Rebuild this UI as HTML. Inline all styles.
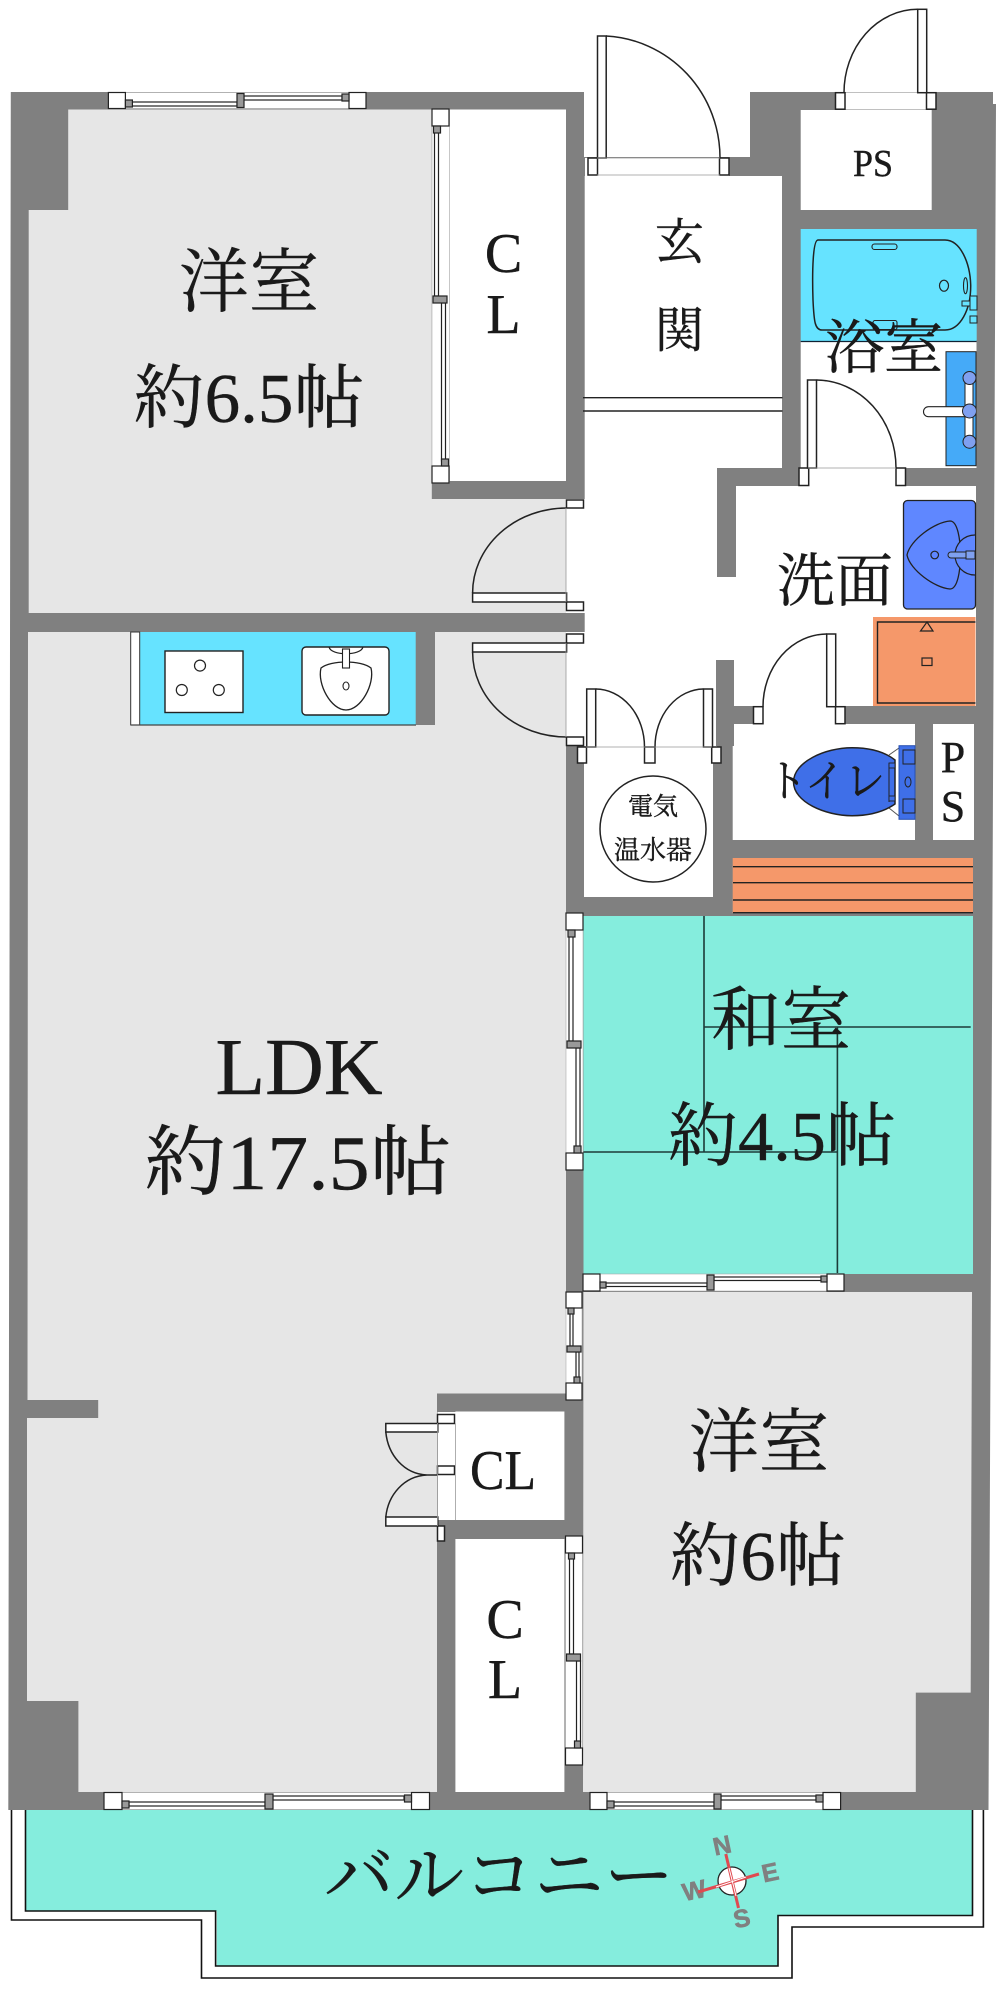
<!DOCTYPE html>
<html lang="ja"><head><meta charset="utf-8"><title>間取り図</title>
<style>
html,body{margin:0;padding:0;background:#fff}
svg{display:block}
text{font-family:"Liberation Serif","Noto Serif CJK SC","Noto Serif CJK JP",serif;fill:#1a1a1a;stroke:#1a1a1a;stroke-width:.4}
</style></head><body>
<svg xmlns="http://www.w3.org/2000/svg" width="1000" height="1994" viewBox="0 0 1000 1994">
<rect width="1000" height="1994" fill="#fff"/>
<!-- balcony -->
<path d="M25.5,1808H972V1915H778V1966H216.8V1911H25.5Z" fill="#85eddd"/>
<path d="M25.5,1808V1911H215.6V1966H778V1915.5H972.5V1808M11.5,1808V1920H201.5V1978H792V1927H983.4V1808" fill="none" stroke="#111" stroke-width="1.6"/>
<!-- walls -->
<path d="M10.8,92H584V157H750V92H993V104H996L988.5,1810H8.3Z" fill="#808080"/>
<!-- grey rooms -->
<path d="M68.2,109.5H431.8V499H566V613H28.7V210H68.2Z" fill="#e6e6e6"/>
<path d="M28,632H130.7V725H435V632H566V1393.5H437V1792H78.4V1701H27V1418H98.2V1400H27.5Z" fill="#e6e6e6"/>
<path d="M583.5,1292H972L970.7,1692.6H915.8V1792H583Z" fill="#e6e6e6"/>
<!-- white rooms -->
<rect x="449.6" y="109.5" width="116.4" height="371.5" fill="#fff"/>
<rect x="584.7" y="176" width="197.3" height="292" fill="#fff"/>
<rect x="584.7" y="468" width="132.3" height="279" fill="#fff"/>
<rect x="717" y="486" width="259" height="220" fill="#fff"/>
<rect x="800.7" y="110" width="131" height="100" fill="#fff"/>
<rect x="800.7" y="341" width="176" height="127" fill="#fff"/>
<rect x="732.7" y="724" width="182.3" height="116" fill="#fff"/>
<rect x="933" y="724" width="41" height="116" fill="#fff"/>
<rect x="584" y="763" width="129" height="134" fill="#fff"/>
<rect x="455.4" y="1411.5" width="109" height="108.5" fill="#fff"/>
<rect x="455.4" y="1539" width="109" height="253" fill="#fff"/>
<!-- wall stubs in hall / washroom -->
<rect x="717" y="468" width="19" height="109" fill="#808080"/>
<rect x="716" y="660" width="18" height="86" fill="#808080"/>
<!-- openings -->
<rect x="585" y="158" width="144" height="18" fill="#fff"/>
<rect x="835" y="92.5" width="100" height="17" fill="#fff"/>
<rect x="799" y="468" width="106" height="18" fill="#fff"/>
<rect x="753" y="706" width="92" height="18" fill="#fff"/>
<rect x="577" y="747" width="144" height="16" fill="#fff"/>
<rect x="566" y="499" width="19" height="114" fill="#fff"/>
<rect x="566" y="632" width="19" height="114" fill="#fff"/>
<rect x="437.5" y="1412" width="18" height="108" fill="#fff"/>

<!-- tatami -->
<rect x="583.5" y="916" width="389.5" height="358" fill="#85eddd"/>
<path d="M704,916V1152M704,1027H970.7M837.4,1027V1273M583.5,1152H837.4" fill="none" stroke="#1c3b38" stroke-width="1.6"/>
<!-- orange step -->
<rect x="732.7" y="858" width="240.3" height="55" fill="#f5986a"/>
<path d="M733,866.7H973M733,882.7H973M733,900H973M733,912.7H973" stroke="#222" stroke-width="1.4"/>

<!-- kitchen -->
<rect x="130.7" y="632" width="285" height="93" fill="#66e3ff"/>
<rect x="130.7" y="632" width="9" height="93" fill="#fff" stroke="#333" stroke-width="1"/>
<path d="M131,725H416" stroke="#444" stroke-width="1.2"/>
<rect x="165" y="651" width="78" height="61.5" fill="#fff" stroke="#222" stroke-width="1.4"/>
<circle cx="200" cy="665.6" r="5.5" fill="#fff" stroke="#222" stroke-width="1.2"/>
<circle cx="181.8" cy="690" r="5.5" fill="#fff" stroke="#222" stroke-width="1.2"/>
<circle cx="218.8" cy="690" r="5.5" fill="#fff" stroke="#222" stroke-width="1.2"/>
<rect x="302" y="647" width="87" height="68" rx="4" fill="#fff" stroke="#222" stroke-width="1.4"/>
<path d="M321,668C331,660 361,660 371,668C375,684 361,710 346,710C331,710 317,684 321,668Z" fill="#fff" stroke="#222" stroke-width="1.3"/>
<path d="M329,647C331,656 361,656 363,647" fill="none" stroke="#222" stroke-width="1.2"/>
<rect x="342.5" y="649" width="7" height="19" fill="#fff" stroke="#222" stroke-width="1.1"/>
<ellipse cx="346" cy="686" rx="3" ry="4" fill="#fff" stroke="#222" stroke-width="1.1"/>

<!-- bath -->
<rect x="800.7" y="229" width="176" height="112.5" fill="#66e3ff"/>
<path d="M800.7,341.5H976.7" stroke="#123" stroke-width="1.2"/>
<path d="M818,240H945C960,240 970,262 970.7,285C971,310 960,330 945,330H822C815,330 814,322 813,300C812,270 813,240 818,240Z" fill="#66e3ff" stroke="#222" stroke-width="1.5"/>
<rect x="872" y="244" width="25" height="5.5" rx="2.5" fill="#66e3ff" stroke="#222" stroke-width="1.1"/>
<rect x="873" y="320.5" width="24" height="9" rx="2" fill="#66e3ff" stroke="#222" stroke-width="1.1"/>
<ellipse cx="944" cy="285.7" rx="4.5" ry="5.5" fill="#66e3ff" stroke="#222" stroke-width="1.2"/>
<ellipse cx="965.5" cy="285.7" rx="2" ry="8" fill="#66e3ff" stroke="#222" stroke-width="1.1"/>
<rect x="962" y="301" width="12" height="5" fill="#66e3ff" stroke="#222" stroke-width="1"/>
<rect x="970" y="296" width="7" height="14" fill="#66e3ff" stroke="#222" stroke-width="1"/>
<rect x="970" y="316" width="7" height="7" fill="#66e3ff" stroke="#222" stroke-width="1"/>
<!-- bath vanity -->
<rect x="946" y="351.7" width="30" height="114" fill="#45aaf8" stroke="#222" stroke-width="1"/>
<rect x="965" y="378" width="8" height="64" fill="#fff" stroke="#222" stroke-width="1"/>
<rect x="923.5" y="406.7" width="46" height="10" rx="5" fill="#fff" stroke="#222" stroke-width="1.1"/>
<circle cx="969.5" cy="378" r="6.5" fill="#7fa0f0" stroke="#222" stroke-width="1"/>
<circle cx="969.5" cy="411" r="7" fill="#7fa0f0" stroke="#222" stroke-width="1"/>
<circle cx="969.5" cy="441.7" r="6.5" fill="#7fa0f0" stroke="#222" stroke-width="1"/>
<rect x="976.5" y="340" width="12" height="130" fill="#808080"/>

<!-- wash basin -->
<rect x="903.5" y="500.5" width="72" height="108.5" rx="4" fill="#5f87ff" stroke="#222" stroke-width="1.3"/>
<path d="M907,555C910,540 935,522 950,521C958,521 960,540 961,555C960,570 958,589 950,589C935,588 910,570 907,555Z" fill="#5f87ff" stroke="#222" stroke-width="1.3"/>
<path d="M975,535A20,20 0 0 0 975,575" fill="#5f87ff" stroke="#222" stroke-width="1.2"/>
<circle cx="934.7" cy="555" r="3.8" fill="#5f87ff" stroke="#222" stroke-width="1.2"/>
<rect x="948" y="552" width="20" height="6" rx="3" fill="#7fa0f0" stroke="#222" stroke-width="1"/>
<rect x="966" y="551" width="9" height="8" fill="#7fa0f0" stroke="#222" stroke-width="1"/>
<!-- washer -->
<rect x="873" y="617" width="102.5" height="89" fill="#f5986a"/>
<path d="M975.5,622H877.5V703H975.5" fill="none" stroke="#222" stroke-width="1.4"/>
<path d="M927,622L933,631H920.5Z" fill="#f5986a" stroke="#222" stroke-width="1.2"/>
<rect x="922" y="658" width="10" height="7.5" fill="#f5986a" stroke="#222" stroke-width="1.2"/>

<!-- toilet -->
<path d="M889,755L899,748M889,808L899,816" stroke="#555" stroke-width="1"/>
<rect x="899" y="745.7" width="16" height="73.6" fill="#3f6fe8" stroke="#2750b0" stroke-width="1"/>
<rect x="903" y="750" width="12" height="14" fill="#3f6fe8" stroke="#222" stroke-width="1"/>
<rect x="903" y="799" width="12" height="14" fill="#3f6fe8" stroke="#222" stroke-width="1"/>
<ellipse cx="908" cy="782" rx="3" ry="5" fill="#3f6fe8" stroke="#222" stroke-width="1"/>
<path d="M793.5,782C793.5,762 825,747.7 852,747.7C872,747.7 885,752 895,760V804C885,811 872,815.7 852,815.7C825,815.7 793.5,802 793.5,782Z" fill="#3f6fe8" stroke="#222" stroke-width="1.5"/>
<path d="M889,763V802" stroke="#222" stroke-width="1"/>
<rect x="889" y="763" width="6" height="5" fill="#3f6fe8" stroke="#222" stroke-width=".9"/>
<rect x="889" y="796" width="6" height="5" fill="#3f6fe8" stroke="#222" stroke-width=".9"/>

<!-- hall lines -->
<path d="M583,397.7H782.5M583,411H782.5" stroke="#222" stroke-width="1.4"/>

<!-- doors -->
<g fill="#fff" stroke="#222" stroke-width="1.5">
<rect x="588" y="158" width="9.5" height="17"/><rect x="719.5" y="158" width="9.5" height="17"/>
<rect x="597.5" y="36" width="8.7" height="122"/>
<path d="M606,36A120,122 0 0 1 720,158" fill="none"/>
<path d="M597,158H720M597,175H720" stroke="#999" stroke-width=".7" fill="none"/>
<rect x="835.5" y="92.7" width="9.5" height="16.5"/><rect x="926.5" y="92.7" width="9.5" height="16.5"/>
<rect x="917.7" y="9.3" width="9" height="83.4"/>
<path d="M917.7,9.3A74,83.4 0 0 0 844,92.7" fill="none"/>
<rect x="799" y="468" width="9.7" height="17.5"/><rect x="896" y="468" width="9.5" height="17.5"/>
<rect x="807.5" y="380" width="9" height="88"/>
<path d="M816.7,380A80,88 0 0 1 896,468" fill="none"/>
<path d="M808,468H896" stroke="#999" stroke-width=".7" fill="none"/>
<rect x="753.5" y="706.7" width="9.5" height="17"/><rect x="835.5" y="706.7" width="9.5" height="17"/>
<rect x="826.7" y="634" width="9" height="72.7"/>
<path d="M826.7,634A64,72.7 0 0 0 763,706.7" fill="none"/>
<rect x="577.5" y="747" width="9" height="16"/><rect x="644.5" y="747" width="10.5" height="16"/><rect x="711.7" y="747" width="9.3" height="16"/>
<rect x="586.7" y="689" width="9" height="58"/><rect x="703.5" y="689" width="9" height="58"/>
<path d="M595.7,689A49,58 0 0 1 644.5,747M703.5,689A49,58 0 0 0 655,747" fill="none"/>
<path d="M586,747H712" stroke="#999" stroke-width=".8" fill="none"/>
<rect x="566.5" y="500" width="17" height="8"/><rect x="566.5" y="602" width="17" height="8.5"/>
<rect x="472.6" y="593" width="94" height="9"/>
<path d="M566.5,508A94,85 0 0 0 472.6,593" fill="none"/>
<rect x="566.5" y="634" width="17" height="9"/><rect x="566.5" y="737" width="17" height="8.5"/>
<rect x="472.6" y="643" width="94" height="9"/>
<path d="M472.6,652A94,85 0 0 0 566.5,737" fill="none"/>
<rect x="437.5" y="1414.5" width="17" height="9"/><rect x="437.5" y="1466" width="17" height="8.5"/><rect x="437.5" y="1526" width="7" height="15"/>
<rect x="385.8" y="1423.5" width="52" height="8.5"/><rect x="385.8" y="1517" width="52" height="9"/>
<path d="M385.8,1432C388,1455 404,1474 427,1475H437.5M385.8,1517C388,1495 404,1476 427,1475" fill="none"/>
</g>
<path d="M566,508V602M566,643V737M437.5,1423V1526M455.4,1423V1520" stroke="#999" stroke-width=".8"/>
<rect x="446" y="1520" width="19" height="19" fill="#808080"/>

<!-- sliding windows -->
<g stroke="#222" stroke-width="1.2" fill="#fff">
<!-- top window -->
<rect x="108.4" y="92.5" width="257.6" height="16" stroke="#aaa" stroke-width=".6"/>
<rect x="108.4" y="92.5" width="17" height="16"/><rect x="349" y="92.5" width="17" height="16"/>
<rect x="130" y="102" width="107" height="4"/><rect x="244" y="96" width="98" height="4"/>
<rect x="237" y="93.5" width="7" height="14" fill="#999"/>
<rect x="125.4" y="100" width="7" height="7" fill="#999"/><rect x="342" y="94" width="7" height="7" fill="#999"/>
<!-- CL1 vertical -->
<rect x="432" y="109" width="17.5" height="374" stroke="#aaa" stroke-width=".6"/>
<rect x="432" y="109" width="17" height="17"/><rect x="432" y="466" width="17" height="17"/>
<rect x="434.5" y="130" width="4" height="166"/><rect x="441.5" y="303" width="4" height="158"/>
<rect x="433" y="296" width="14" height="7" fill="#999"/>
<rect x="433.5" y="126" width="7" height="7" fill="#999"/><rect x="441.5" y="459" width="7" height="7" fill="#999"/>
<!-- LDK / washitsu vertical -->
<rect x="566" y="913" width="17" height="257" stroke="#aaa" stroke-width=".6"/>
<rect x="566" y="913" width="17" height="17"/><rect x="566" y="1153" width="17" height="17"/>
<rect x="569" y="936" width="4" height="105"/><rect x="576" y="1048" width="4" height="99"/>
<rect x="567" y="1041" width="14" height="7" fill="#999"/>
<rect x="568" y="930" width="7" height="7" fill="#999"/><rect x="574" y="1146" width="7" height="7" fill="#999"/>
<!-- LDK / yoshitsu vertical -->
<rect x="566" y="1292" width="16" height="108" stroke="#aaa" stroke-width=".6"/>
<rect x="566" y="1292" width="16" height="16"/><rect x="566" y="1383" width="16" height="17"/>
<rect x="570" y="1313" width="3" height="33"/><rect x="576" y="1352" width="3" height="26"/>
<rect x="567" y="1346" width="14" height="6" fill="#999"/>
<rect x="568" y="1308" width="6" height="6" fill="#999"/><rect x="574" y="1377" width="6" height="6" fill="#999"/>
<!-- CL2 vertical -->
<rect x="565.5" y="1536" width="17" height="229" stroke="#aaa" stroke-width=".6"/>
<rect x="565.5" y="1536" width="17" height="17"/><rect x="565.5" y="1748" width="17" height="17"/>
<rect x="569.5" y="1558" width="4" height="96"/><rect x="576.5" y="1661" width="4" height="81"/>
<rect x="566.5" y="1654" width="14" height="7" fill="#999"/>
<rect x="568.5" y="1553" width="6" height="6" fill="#999"/><rect x="574.5" y="1741" width="6" height="7" fill="#999"/>
<!-- washitsu bottom window -->
<rect x="583" y="1274" width="261" height="17" stroke="#aaa" stroke-width=".6"/>
<rect x="583" y="1274" width="17" height="17"/><rect x="827" y="1274" width="17" height="17"/>
<rect x="606" y="1283" width="101" height="3.5"/><rect x="714" y="1277" width="107" height="3.5"/>
<rect x="707" y="1275" width="7" height="15" fill="#999"/>
<rect x="600" y="1282" width="6" height="6" fill="#999"/><rect x="821" y="1276" width="6" height="6" fill="#999"/>
<!-- bottom windows -->
<rect x="104" y="1792.5" width="325" height="17" stroke="#aaa" stroke-width=".6"/>
<rect x="104" y="1792.5" width="18" height="17"/><rect x="411.5" y="1792.5" width="18" height="17"/>
<rect x="129" y="1802" width="136" height="4"/><rect x="273" y="1796" width="131" height="4"/>
<rect x="265" y="1794" width="8" height="15" fill="#999"/>
<rect x="122" y="1801" width="7" height="7" fill="#999"/><rect x="404.5" y="1795" width="7" height="7" fill="#999"/>
<rect x="590" y="1792.5" width="250.6" height="17" stroke="#aaa" stroke-width=".6"/>
<rect x="590" y="1792.5" width="17" height="17"/><rect x="823" y="1792.5" width="17.6" height="17"/>
<rect x="614" y="1802" width="100" height="4"/><rect x="721" y="1796" width="95" height="4"/>
<rect x="714" y="1794" width="7" height="15" fill="#999"/>
<rect x="607" y="1801" width="7" height="7" fill="#999"/><rect x="816" y="1795" width="7" height="7" fill="#999"/>
</g>

<!-- water heater -->
<ellipse cx="653" cy="829" rx="53" ry="53" fill="#fff" stroke="#222" stroke-width="1.5"/>

<!-- compass -->
<g font-weight="700" font-size="25" text-anchor="middle">
<text x="722" y="1854" transform="rotate(-12 722 1845)" style="font-family:'Liberation Sans',sans-serif;fill:#808080;stroke:#808080;stroke-width:.6">N</text>
<text x="770" y="1881" transform="rotate(-12 770 1872)" style="font-family:'Liberation Sans',sans-serif;fill:#808080;stroke:#808080;stroke-width:.6">E</text>
<text x="694" y="1899" transform="rotate(-12 694 1890)" style="font-family:'Liberation Sans',sans-serif;fill:#808080;stroke:#808080;stroke-width:.6">W</text>
<text x="741.7" y="1927" transform="rotate(-12 741.7 1918)" style="font-family:'Liberation Sans',sans-serif;fill:#808080;stroke:#808080;stroke-width:.6">S</text>
</g>
<circle cx="732" cy="1881" r="14" fill="#fff" stroke="#222" stroke-width="1.3"/>
<path d="M725.8,1854L738.5,1908M698,1892L759,1874" stroke="#e04a50" stroke-width="3"/>
<path d="M729,1868L736,1896M716,1887L746,1877" stroke="#fff" stroke-width="1"/>

<!-- labels -->
<text x="249" y="306" font-size="70" text-anchor="middle">洋室</text>
<text x="249" y="422" font-size="70" text-anchor="middle" textLength="231" lengthAdjust="spacingAndGlyphs">約6.5帖</text>
<text x="503.5" y="272" font-size="56" text-anchor="middle">C</text>
<text x="503.5" y="333" font-size="56" text-anchor="middle">L</text>
<text x="679.5" y="259" font-size="49" text-anchor="middle">玄</text>
<text x="679.5" y="347" font-size="49" text-anchor="middle">関</text>
<text x="873" y="176" font-size="38" text-anchor="middle" textLength="40" lengthAdjust="spacingAndGlyphs">PS</text>
<text x="884" y="368" font-size="59" text-anchor="middle">浴室</text>
<text x="835" y="601" font-size="58" text-anchor="middle">洗面</text>
<text x="826" y="796" font-size="44" text-anchor="middle" textLength="118" lengthAdjust="spacingAndGlyphs">トイレ</text>
<text x="953" y="772" font-size="44" text-anchor="middle">P</text>
<text x="953" y="821" font-size="44" text-anchor="middle">S</text>
<text x="653" y="815" font-size="25" text-anchor="middle">電気</text>
<text x="653" y="859" font-size="26" text-anchor="middle">温水器</text>
<text x="299" y="1094" font-size="80" text-anchor="middle" textLength="167" lengthAdjust="spacingAndGlyphs">LDK</text>
<text x="298" y="1189" font-size="77" text-anchor="middle" textLength="307" lengthAdjust="spacingAndGlyphs">約17.5帖</text>
<text x="781" y="1044" font-size="70" text-anchor="middle">和室</text>
<text x="782" y="1160" font-size="70" text-anchor="middle" textLength="228" lengthAdjust="spacingAndGlyphs">約4.5帖</text>
<text x="759" y="1466" font-size="70" text-anchor="middle">洋室</text>
<text x="758" y="1580" font-size="70" text-anchor="middle" textLength="176" lengthAdjust="spacingAndGlyphs">約6帖</text>
<text x="503" y="1489" font-size="56" text-anchor="middle" textLength="66" lengthAdjust="spacingAndGlyphs">CL</text>
<text x="505" y="1638" font-size="56" text-anchor="middle">C</text>
<text x="505" y="1698" font-size="56" text-anchor="middle">L</text>
<text x="499" y="1900" font-size="70" text-anchor="middle">バルコニー</text>
</svg>
</body></html>
